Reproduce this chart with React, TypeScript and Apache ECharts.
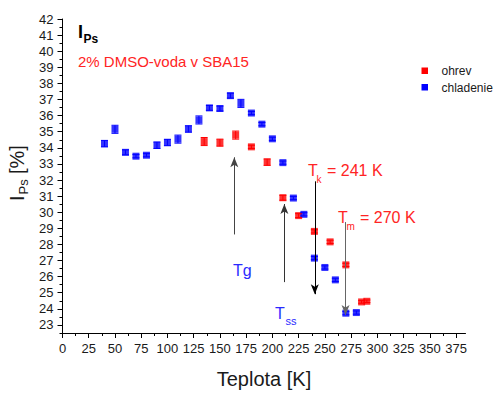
import React, { useEffect, useRef } from "react";
import * as echarts from "echarts";

const FONT = '"Liberation Sans", Arial, Helvetica, sans-serif';

// ohrev (heating) – red
const heatT = [135, 150, 165, 180, 195, 210, 225, 240, 255, 270, 285, 290];
const heatV = [34.39, 34.32, 34.79, 34.06, 33.11, 30.9, 29.79, 28.81, 28.16, 26.73, 24.43, 24.47];
const heatErr = [0.25, 0.22, 0.25, 0.1, 0.2, 0.15, 0.12, 0.1, 0.1, 0.1, 0.08, 0.08];

// chladenie (cooling) – blue
const coolT = [40, 50, 60, 70, 80, 90, 100, 110, 120, 130, 140, 150, 160, 170, 180, 190, 200, 210, 220, 230, 240, 250, 260, 270, 280];
const coolV = [34.26, 35.15, 33.72, 33.48, 33.54, 34.16, 34.33, 34.54, 35.17, 35.73, 36.48, 36.44, 37.24, 36.76, 36.16, 35.47, 34.56, 33.08, 30.88, 29.87, 27.15, 26.57, 25.8, 23.73, 23.77];
const coolErr = [0.2, 0.25, 0.15, 0.1, 0.1, 0.2, 0.2, 0.25, 0.2, 0.25, 0.15, 0.15, 0.15, 0.25, 0.1, 0.1, 0.1, 0.1, 0.1, 0.1, 0.1, 0.1, 0.1, 0.1, 0.1];

const seriesNames = ["ohrev", "chladenie"];

const xMajor = [0, 25, 50, 75, 100, 125, 150, 175, 200, 225, 250, 275, 300, 325, 350, 375];
const xMinor = [12.5, 37.5, 62.5, 87.5, 112.5, 137.5, 162.5, 187.5, 212.5, 237.5, 262.5, 287.5, 312.5, 337.5, 362.5];
const yMajor = [23, 24, 25, 26, 27, 28, 29, 30, 31, 32, 33, 34, 35, 36, 37, 38, 39, 40, 41, 42];
const yMinor = [22.5, 23.5, 24.5, 25.5, 26.5, 27.5, 28.5, 29.5, 30.5, 31.5, 32.5, 33.5, 34.5, 35.5, 36.5, 37.5, 38.5, 39.5, 40.5, 41.5];

// annotation arrows in data units: [x1, y1] -> [x2, y2] (head at the second point)
const arrowFrom = [[163.7, 28.62], [211.4, 25.66], [240.4, 31.92], [269.7, 29.39]];
const arrowTo = [[163.7, 33.41], [211.4, 30.51], [240.4, 24.91], [269.7, 23.62]];
const arrowColors = ["#444444", "#333333", "#000000", "#666666"];

const RED = "#ff0000";
const BLUE = "#0000ff";
const RED_TXT = "#ff2424";
const BLUE_TXT = "#2a2aff";

function errSeries(name: string, xs: number[], ys: number[], es: number[], color: string) {
  return {
    type: "custom",
    name,
    silent: true,
    z: 4,
    encode: { x: 0, y: 1 },
    data: xs.map((x, i) => [x, ys[i], es[i]]),
    renderItem: (params: any, api: any) => {
      const x = api.value(0);
      const y = api.value(1);
      const e = api.value(2);
      const top = api.coord([x, y + e]);
      const bot = api.coord([x, y - e]);
      const hw = 3.5;
      const style = { stroke: color, lineWidth: 1 };
      return {
        type: "group",
        children: [
          { type: "line", shape: { x1: top[0], y1: top[1], x2: bot[0], y2: bot[1] }, style },
          { type: "line", shape: { x1: top[0] - hw, y1: top[1], x2: top[0] + hw, y2: top[1] }, style },
          { type: "line", shape: { x1: bot[0] - hw, y1: bot[1], x2: bot[0] + hw, y2: bot[1] }, style },
        ],
      };
    },
  };
}

function txt(text: string, x: number, y: number, size: number, color: string, extra: any = {}) {
  return {
    type: "text",
    x,
    y,
    silent: true,
    style: {
      text,
      fontSize: size,
      fontFamily: FONT,
      fill: color,
      align: "left",
      verticalAlign: "middle",
      ...extra,
    },
  };
}

export default function App() {
  const ref = useRef<HTMLDivElement>(null);

  useEffect(() => {
    if (!ref.current) return;
    const chart = echarts.init(ref.current, undefined, { renderer: "svg" });

    const axisLabelStyle = { fontSize: 13, color: "#1a1a1a", fontFamily: FONT };

    const option: any = {
      animation: false,
      backgroundColor: "#ffffff",
      grid: { left: 62.5, right: 28.5, top: 19, bottom: 48, containLabel: false },
      xAxis: [
        {
          type: "value",
          min: 0,
          max: 384,
          splitLine: { show: false },
          axisLine: { show: true, onZero: false, lineStyle: { color: "#000", width: 1 } },
          axisTick: { show: true, length: 5, customValues: xMajor, lineStyle: { color: "#000" } },
          axisLabel: { customValues: xMajor, margin: 9, ...axisLabelStyle },
          name: "Teplota [K]",
          nameLocation: "middle",
          nameGap: 36,
          nameTextStyle: { fontSize: 20, color: "#1a1a1a", fontFamily: FONT },
        },
        {
          type: "value",
          min: 0,
          max: 384,
          position: "bottom",
          splitLine: { show: false },
          axisLine: { show: false },
          axisTick: { show: true, length: 3, customValues: xMinor, lineStyle: { color: "#000" } },
          axisLabel: { show: false },
        },
      ],
      yAxis: [
        {
          type: "value",
          min: 22.5,
          max: 42,
          splitLine: { show: false },
          axisLine: { show: true, onZero: false, lineStyle: { color: "#000", width: 1 } },
          axisTick: { show: true, length: 5, customValues: yMajor, lineStyle: { color: "#000" } },
          axisLabel: { customValues: yMajor, margin: 9, ...axisLabelStyle },
        },
        {
          type: "value",
          min: 22.5,
          max: 42,
          position: "left",
          splitLine: { show: false },
          axisLine: { show: false },
          axisTick: { show: true, length: 3, customValues: yMinor, lineStyle: { color: "#000" } },
          axisLabel: { show: false },
        },
      ],
      series: [
        {
          type: "scatter",
          name: seriesNames[0],
          symbol: "rect",
          symbolSize: 7,
          itemStyle: { color: RED },
          z: 3,
          data: heatT.map((t, i) => [t, heatV[i]]),
        },
        {
          type: "scatter",
          name: seriesNames[1],
          symbol: "rect",
          symbolSize: 7,
          itemStyle: { color: BLUE },
          z: 3,
          data: coolT.map((t, i) => [t, coolV[i]]),
          markLine: {
            silent: true,
            animation: false,
            label: { show: false },
            data: arrowFrom.map((f, i) => [
              { coord: f, symbol: "none", lineStyle: { color: arrowColors[i], width: 1, type: "solid" } },
              { coord: arrowTo[i], symbol: "arrow", symbolSize: [6, 10] },
            ]),
          },
        },
        errSeries("errHeat", heatT, heatV, heatErr, RED),
        errSeries("errCool", coolT, coolV, coolErr, BLUE),
      ],
      graphic: [
        // legend
        { type: "rect", silent: true, shape: { x: 421.5, y: 67.5, width: 6.5, height: 6.5 }, style: { fill: RED } },
        txt(seriesNames[0], 441.5, 71, 12, "#1a1a1a"),
        { type: "rect", silent: true, shape: { x: 421.5, y: 84, width: 6.5, height: 6.5 }, style: { fill: BLUE } },
        txt(seriesNames[1], 441.5, 87.5, 12, "#1a1a1a"),
        // title I_Ps
        txt("I", 78, 31.5, 18, "#000", { fontWeight: "bold" }),
        txt("Ps", 83.5, 39, 12, "#000", { fontWeight: "bold" }),
        txt("2% DMSO-voda v SBA15", 78, 61, 15, RED_TXT),
        // annotation labels
        txt("Tg", 233, 270, 16, BLUE_TXT),
        txt("T", 275, 313.5, 16, BLUE_TXT),
        txt("ss", 285.5, 321, 11, BLUE_TXT),
        txt("T", 308, 170, 16, RED_TXT),
        txt("k", 316.5, 179, 10, RED_TXT),
        txt("= 241 K", 327, 170, 16, RED_TXT),
        txt("T", 338, 217.5, 16, RED_TXT),
        txt("m", 346.5, 226, 10, RED_TXT),
        txt("= 270 K", 360, 217.5, 16, RED_TXT),
        // y-axis name, rotated
        {
          type: "group",
          x: 17,
          y: 201,
          rotation: Math.PI / 2,
          silent: true,
          children: [
            txt("I", 0, 0, 20, "#1a1a1a"),
            txt("Ps", 6.5, 6, 13, "#1a1a1a"),
            txt("[%]", 27, 0, 20, "#1a1a1a"),
          ],
        },
      ],
    };

    chart.setOption(option);
    return () => chart.dispose();
  }, []);

  return (
    <div
      ref={ref}
      style={{ position: "fixed", left: 0, top: 0, width: 494, height: 394, background: "#fff" }}
    />
  );
}
